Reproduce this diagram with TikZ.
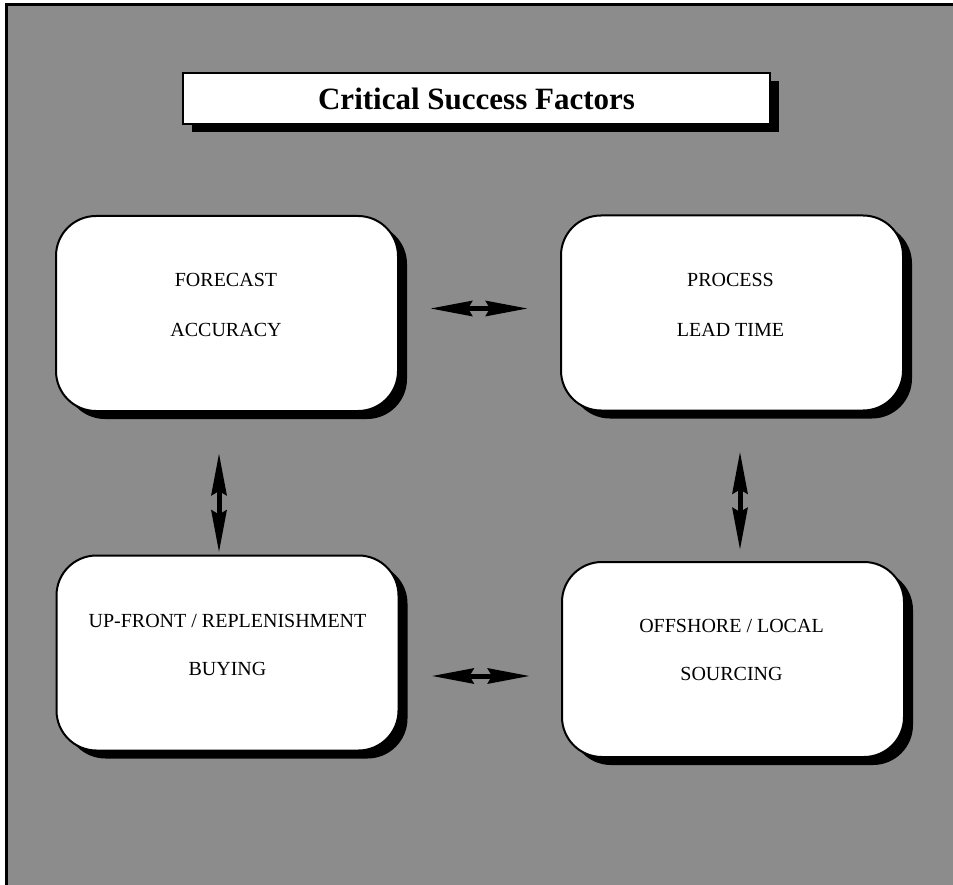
\documentclass[tikz,border=0pt]{standalone}
\usepackage{fontspec}
\setmainfont{Liberation Serif}
\usetikzlibrary{shadows,arrows.meta,calc}
\definecolor{panelgray}{gray}{0.55}
\begin{document}
\begin{tikzpicture}[x=1pt,y=-1pt,
  cfbox/.style={draw=black, line width=2pt, fill=white, rounded corners=40pt,
    minimum width=342pt, minimum height=195pt, inner sep=0pt,
    drop shadow={shadow xshift=9pt, shadow yshift=-8pt, fill=black, opacity=1}},
  titlebox/.style={draw=black, line width=2.5pt, fill=white,
    minimum width=587pt, minimum height=51pt, inner sep=0pt,
    font=\bfseries\fontsize{31}{36}\selectfont,
    drop shadow={shadow xshift=9pt, shadow yshift=-8pt, fill=black, opacity=1}},
  cftext/.style={anchor=base, inner sep=0pt, font=\fontsize{20}{24}\selectfont},
  dblarrow/.style={line width=5pt,
    {Stealth[length=42pt,width=15pt,inset=4pt]}-{Stealth[length=42pt,width=15pt,inset=4pt]}}
]
\useasboundingbox (0,0) rectangle (953,885);
% page, gray panel and its frame
\fill[white] (0,0) rectangle (953,885);
\fill[panelgray] (6,5) rectangle (953,885);
\draw[line width=3pt] (6,885) -- (6,5) -- (953,5);

% title
\node[titlebox] (title) at (476.5,98.5) {Critical Success Factors};

% the four factors
\node[cfbox] (fa)  at (227,313.5) {};
\node[cfbox] (plt) at (732,313)   {};
\node[cfbox] (ub)  at (227.5,653) {};
\node[cfbox] (os)  at (733,659.5) {};

\node[cftext] (fa1)  at (226,287) {FORECAST};
\node[cftext] (fa2)  at (226,336) {ACCURACY};
\node[cftext] (plt1) at (730.5,287) {PROCESS};
\node[cftext] (plt2) at (730.5,336) {LEAD TIME};
\node[cftext] (ub1)  at (227.5,627) {UP-FRONT / REPLENISHMENT};
\node[cftext] (ub2)  at (227.5,675) {BUYING};
\node[cftext] (os1)  at (731.5,632) {OFFSHORE / LOCAL};
\node[cftext] (os2)  at (731.5,680) {SOURCING};

% links between the factors
\draw[dblarrow, shorten <=31pt, shorten >=32pt]
  ($(fa.east)+(0,-5)$) -- ($(plt.west |- fa.east)+(0,-5)$);
\draw[dblarrow, shorten <=32pt, shorten >=31pt]
  ($(ub.east)+(0,23)$) -- ($(os.west |- ub.east)+(0,23)$);
\draw[dblarrow, shorten <=41pt, shorten >=2pt]
  ($(fa.south)+(-8,0)$) -- ($(ub.north -| fa.south)+(-8,0)$);
\draw[dblarrow, shorten <=40pt, shorten >=11pt]
  ($(plt.south)+(8,0)$) -- ($(os.north -| plt.south)+(8,0)$);
\end{tikzpicture}
\end{document}
